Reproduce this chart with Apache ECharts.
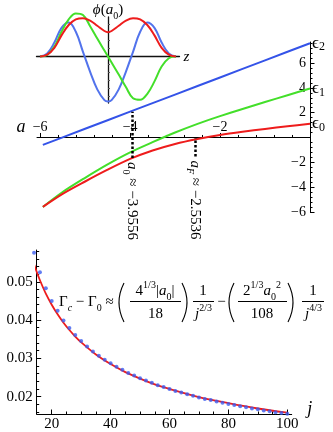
<!DOCTYPE html>
<html>
<head>
<meta charset="utf-8">
<title>levels and gap</title>
<script src="https://cdn.jsdelivr.net/npm/echarts@6.0.0/dist/echarts.min.js"></script>
<style>
  html, body { margin: 0; padding: 0; background: #ffffff; }
  #chart { width: 333px; height: 432px; }
</style>
</head>
<body>
<div id="chart"></div>
<script>
// ---- top panel: levels eps_n against a ----
const aValues = [-5.94, -5.5, -5, -4.5, -4, -3.5, -3, -2.5, -2, -1.5, -1, -0.5, 0];
const eps0 = [-5.6, -4.55, -3.55, -2.6, -1.73, -1.05, -0.52, -0.12, 0.2, 0.46, 0.69, 0.9, 1.1];
const eps1 = [-5.6, -4.4, -3.25, -2.17, -1.2, -0.38, 0.4, 1.1, 1.72, 2.3, 2.86, 3.41, 3.95];
const eps2 = [-0.6, 0.01, 0.7, 1.39, 2.08, 2.77, 3.46, 4.15, 4.84, 5.53, 6.22, 6.91, 7.6];
const aTicks = [-6, -4, -2];
const aMinorTicks = [-5.6, -5.2, -4.8, -4.4, -3.6, -3.2, -2.8, -2.4, -1.6, -1.2, -0.8, -0.4];
const epsTicks = [-6, -4, -2, 2, 4, 6];
const epsMinorTicks = [-5.6, -5.2, -4.8, -4.4, -3.6, -3.2, -2.8, -2.4, -1.6, -1.2, -0.8, -0.4,
  0.4, 0.8, 1.2, 1.6, 2.4, 2.8, 3.2, 3.6, 4.4, 4.8, 5.2, 5.6, 6.4, 6.8, 7.2, 7.6];
const a0 = -3.9556;
const aF = -2.5536;
const a0Span = [-1.66, 2.08];
const aFSpan = [-1.53, 0];

// ---- inset: phi(a0) against z ----
const zInset = [-0.95, -0.85, -0.75, -0.65, -0.55, -0.45, -0.35, -0.25, -0.15, -0.05, 0,
  0.05, 0.15, 0.25, 0.35, 0.45, 0.55, 0.65, 0.75, 0.85, 0.95];
const phiRed = [0, 0.05, 0.22, 0.53, 0.79, 0.93, 0.96, 0.9, 0.77, 0.64, 0.61,
  0.64, 0.77, 0.9, 0.96, 0.93, 0.79, 0.53, 0.22, 0.05, 0];
const phiGreen = [0, 0.04, 0.25, 0.62, 0.93, 1.08, 1.04, 0.76, 0.45, 0.15, 0,
  -0.15, -0.45, -0.76, -1.04, -1.08, -0.93, -0.62, -0.25, -0.04, 0];
const phiBlue = [0, 0.08, 0.35, 0.72, 0.85, 0.62, 0.12, -0.38, -0.82, -1.09, -1.12,
  -1.09, -0.82, -0.38, 0.12, 0.62, 0.85, 0.72, 0.35, 0.08, 0];
const phiTicks = [-1, -0.8, -0.6, -0.4, -0.2, 0.2, 0.4, 0.6, 0.8];

// ---- bottom panel: gap against j ----
const jDots = [14, 16, 18, 20, 22, 24, 26, 28, 30, 32, 34, 36, 38, 40, 42, 44, 46, 48, 50, 52, 54, 56,
  58, 60, 62, 64, 66, 68, 70, 72, 74, 76, 78, 80, 82, 84, 86, 88, 90, 92, 94, 96, 98, 100];
const gapDots = [0.0576, 0.0525, 0.0483, 0.0450, 0.0424, 0.0399, 0.0379, 0.0361, 0.0345, 0.0331, 0.0318,
  0.0307, 0.0296, 0.0287, 0.0278, 0.0270, 0.0262, 0.0255, 0.0248, 0.0242, 0.0236, 0.0230,
  0.0225, 0.0220, 0.0215, 0.0211, 0.0206, 0.0202, 0.0198, 0.0194, 0.0191, 0.0187, 0.0184,
  0.0181, 0.0178, 0.0175, 0.0172, 0.0169, 0.0167, 0.0164, 0.0162, 0.0159, 0.0157, 0.0155];
const jFit = [13, 14, 15, 16, 18, 20, 22, 24, 26, 28, 30, 35, 40, 45, 50, 55, 60, 70, 80, 90, 100];
const gapFit = [0.0571, 0.0546, 0.0524, 0.0504, 0.0469, 0.0440, 0.0415, 0.0393, 0.0374, 0.0357, 0.0342,
  0.0310, 0.0285, 0.0264, 0.0247, 0.0232, 0.0220, 0.0199, 0.0183, 0.0169, 0.0158];
const jTicks = [20, 40, 60, 80, 100];
const jMinorTicks = [25, 30, 35, 45, 50, 55, 65, 70, 75, 85, 90, 95];
const gapTicks = [0.02, 0.03, 0.04, 0.05];
const gapMinorTicks = [0.016, 0.018, 0.022, 0.024, 0.026, 0.028, 0.032, 0.034, 0.036, 0.038,
  0.042, 0.044, 0.046, 0.048, 0.052, 0.054, 0.056, 0.058];

const SERIF = '"Liberation Serif", "DejaVu Serif", serif';
const RED = '#ee1c1c';
const GREEN = '#43df2a';
const BLUE = '#3453e8';
const BLUE_LIGHT = '#5273ec';
const BLUE_DOT = '#3b5cf0';

const pairs = (xs, ys) => xs.map((x, i) => [x, ys[i]]);
const minus = (v) => (v < 0 ? '\u2212' + (-v) : '' + v);

// top panel ranges; the a axis sits on eps = 0
const topA = [-6.07, 0];
const topEps = [-6.05, 7.7];
const topHeight = 170.5;
const aAxisOffset = -(0 - topEps[0]) / (topEps[1] - topEps[0]) * topHeight;

const chart = echarts.init(document.getElementById('chart'));

const rich = {
    m: { fontFamily: SERIF, fontSize: 15, lineHeight: 22, verticalAlign: 'middle' },
    i: { fontFamily: SERIF, fontSize: 15, fontStyle: 'italic', lineHeight: 22, verticalAlign: 'middle' },
    big: { fontFamily: SERIF, fontSize: 18, fontStyle: 'italic', lineHeight: 22, verticalAlign: 'middle' },
    sup: { fontFamily: SERIF, fontSize: 10, lineHeight: 14, verticalAlign: 'top' },
    sub: { fontFamily: SERIF, fontSize: 10, lineHeight: 14, verticalAlign: 'bottom' },
    subi: { fontFamily: SERIF, fontSize: 10, fontStyle: 'italic', lineHeight: 14, verticalAlign: 'bottom' },
};

const epsLabel = (n) => ({
    show: true,
    distance: 2,
    formatter: () => '{e|\u03f5}{s|' + n + '}',
    rich: {
        e: { fontFamily: SERIF, fontSize: 17, lineHeight: 20, verticalAlign: 'middle', color: '#000' },
        s: { fontFamily: SERIF, fontSize: 12, lineHeight: 12, verticalAlign: 'bottom', color: '#000' },
    },
});

const blackLine = { color: '#000', width: 1 };
const tickFont = { fontFamily: SERIF, fontSize: 14, color: '#000' };
const bottomFont = { fontFamily: SERIF, fontSize: 15, color: '#000' };

const option = {
    animation: false,
    backgroundColor: '#ffffff',
    grid: [
        { left: 37, top: 42, width: 273, height: topHeight },
        { left: 36.5, top: 17, width: 143, height: 86 },
        { left: 36.7, top: 250, width: 255, height: 164 },
    ],
    xAxis: [
        {
            gridIndex: 0, type: 'value', min: topA[0], max: topA[1], position: 'bottom', offset: aAxisOffset,
            axisLine: { onZero: false, lineStyle: blackLine },
            axisTick: { inside: true, length: 4.5, customValues: aTicks, lineStyle: blackLine },
            axisLabel: { inside: true, margin: 3, customValues: aTicks, formatter: minus, ...tickFont },
            splitLine: { show: false },
        },
        {
            gridIndex: 0, type: 'value', min: topA[0], max: topA[1], position: 'bottom', offset: aAxisOffset,
            axisLine: { show: false, onZero: false },
            axisTick: { inside: true, length: 2.5, customValues: aMinorTicks, lineStyle: blackLine },
            axisLabel: { show: false },
            splitLine: { show: false },
        },
        {
            gridIndex: 1, type: 'value', min: -1, max: 1,
            axisLine: { onZero: true, lineStyle: { color: '#111', width: 1.3 } },
            axisTick: { show: false },
            axisLabel: { show: false },
            splitLine: { show: false },
        },
        {
            gridIndex: 2, type: 'value', min: 14.9, max: 101.5, position: 'bottom',
            axisLine: { onZero: false, lineStyle: blackLine },
            axisTick: { inside: true, length: 4.5, customValues: jTicks, lineStyle: blackLine },
            axisLabel: { margin: 3, customValues: jTicks, ...bottomFont },
            splitLine: { show: false },
        },
        {
            gridIndex: 2, type: 'value', min: 14.9, max: 101.5, position: 'bottom',
            axisLine: { show: false, onZero: false },
            axisTick: { inside: true, length: 2.5, customValues: jMinorTicks, lineStyle: blackLine },
            axisLabel: { show: false },
            splitLine: { show: false },
        },
    ],
    yAxis: [
        {
            gridIndex: 0, type: 'value', min: topEps[0], max: topEps[1], position: 'right',
            axisLine: { onZero: false, lineStyle: blackLine },
            axisTick: { inside: false, length: 4.5, customValues: epsTicks, lineStyle: blackLine },
            axisLabel: { inside: true, margin: 4, customValues: epsTicks, formatter: minus, ...tickFont },
            splitLine: { show: false },
        },
        {
            gridIndex: 0, type: 'value', min: topEps[0], max: topEps[1], position: 'right',
            axisLine: { show: false, onZero: false },
            axisTick: { inside: false, length: 2.5, customValues: epsMinorTicks, lineStyle: blackLine },
            axisLabel: { show: false },
            splitLine: { show: false },
        },
        {
            gridIndex: 1, type: 'value', min: -1.16, max: 0.99,
            axisLine: { onZero: true, lineStyle: { color: '#111', width: 1.3 } },
            axisTick: { show: true, inside: true, length: 2, customValues: phiTicks, lineStyle: { color: '#555', width: 1 } },
            axisLabel: { show: false },
            splitLine: { show: false },
        },
        {
            gridIndex: 2, type: 'value', min: 0.01546, max: 0.0583, position: 'left',
            axisLine: { onZero: false, lineStyle: blackLine },
            axisTick: { inside: true, length: 4.5, customValues: gapTicks, lineStyle: blackLine },
            axisLabel: { margin: 4, customValues: gapTicks, formatter: (v) => v.toFixed(2), ...bottomFont },
            splitLine: { show: false },
        },
        {
            gridIndex: 2, type: 'value', min: 0.01546, max: 0.0583, position: 'left',
            axisLine: { show: false, onZero: false },
            axisTick: { inside: true, length: 2.5, customValues: gapMinorTicks, lineStyle: blackLine },
            axisLabel: { show: false },
            splitLine: { show: false },
        },
    ],
    series: [
        {
            name: 'eps2', type: 'line', xAxisIndex: 0, yAxisIndex: 0, symbol: 'none',
            data: pairs(aValues, eps2), lineStyle: { color: BLUE, width: 2 }, endLabel: epsLabel(2),
        },
        {
            name: 'eps1', type: 'line', xAxisIndex: 0, yAxisIndex: 0, symbol: 'none', smooth: 0.3,
            data: pairs(aValues, eps1), lineStyle: { color: GREEN, width: 2 }, endLabel: epsLabel(1),
        },
        {
            name: 'eps0', type: 'line', xAxisIndex: 0, yAxisIndex: 0, symbol: 'none', smooth: 0.3,
            data: pairs(aValues, eps0), lineStyle: { color: RED, width: 2 }, endLabel: epsLabel(0),
            markLine: {
                silent: true, symbol: ['none', 'none'], label: { show: false },
                lineStyle: { color: '#000', type: [2.5, 2], width: 2.5 },
                data: [
                    [{ coord: [a0, a0Span[0]] }, { coord: [a0, a0Span[1]] }],
                    [{ coord: [aF, aFSpan[0]] }, { coord: [aF, aFSpan[1]] }],
                ],
            },
        },
        {
            name: 'phi-blue', type: 'line', xAxisIndex: 2, yAxisIndex: 2, symbol: 'none', smooth: 0.4, clip: false,
            data: pairs(zInset, phiBlue), lineStyle: { color: BLUE_LIGHT, width: 2 },
        },
        {
            name: 'phi-green', type: 'line', xAxisIndex: 2, yAxisIndex: 2, symbol: 'none', smooth: 0.4, clip: false,
            data: pairs(zInset, phiGreen), lineStyle: { color: GREEN, width: 2 },
        },
        {
            name: 'phi-red', type: 'line', xAxisIndex: 2, yAxisIndex: 2, symbol: 'none', smooth: 0.4, clip: false,
            data: pairs(zInset, phiRed), lineStyle: { color: RED, width: 2 },
        },
        {
            name: 'fit', type: 'line', xAxisIndex: 3, yAxisIndex: 3, symbol: 'none', smooth: 0.3, clip: false,
            data: pairs(jFit, gapFit), lineStyle: { color: RED, width: 1.8 },
        },
        {
            name: 'gap', type: 'scatter', xAxisIndex: 3, yAxisIndex: 3, symbol: 'circle', symbolSize: 4, clip: false,
            data: pairs(jDots, gapDots), itemStyle: { color: BLUE_DOT }, z: 3,
        },
    ],
};

chart.setOption(option);

// annotations, placed from the axes
const px = (xi, yi, p) => chart.convertToPixel({ xAxisIndex: xi, yAxisIndex: yi }, p);

function tx(x, y, text, align, extra) {
    return Object.assign({
        type: 'text', x: x, y: y, silent: true,
        style: { text: text, rich: rich, align: align || 'center', verticalAlign: 'middle',
                 fontFamily: SERIF, fontSize: 15, fill: '#000' },
    }, extra || {});
}
const bar = (x1, x2, y) => ({ type: 'line', silent: true, shape: { x1, y1: y, x2, y2: y },
    style: { stroke: '#000', lineWidth: 1 } });
const paren = (x, top, bottom, dir) => ({ type: 'bezierCurve', silent: true,
    shape: { x1: x, y1: top, x2: x, y2: bottom, cpx1: x - 10 * dir, cpy1: (top + bottom) / 2 },
    style: { stroke: '#000', lineWidth: 1.1, fill: 'none' } });

const pA0 = px(0, 0, [a0, a0Span[0]]);
const pAF = px(0, 0, [aF, aFSpan[0]]);
const pAStart = px(0, 0, [topA[0], 0]);
const pZEnd = px(2, 2, [1, 0]);
const pPhiTop = px(2, 2, [0, 0.99]);
const pJEnd = px(3, 3, [101.5, 0.01546]);

const elements = [
    tx(pAStart[0] - 16, pAStart[1] - 10, '{big|a}', 'center'),
    tx(pJEnd[0] + 18, pJEnd[1] - 5, '{big|j}', 'center'),
    tx(pZEnd[0] + 7, pZEnd[1], '{i|z}', 'center'),
    tx(pPhiTop[0], pPhiTop[1] - 7, '{i|\u03d5}{m|(}{i|a}{sub|0}{m|)}', 'center'),
    tx(pA0[0], pA0[1] + 4, '{i|a}{sub|0}{m| \u2248 \u22123.9556}', 'left', { rotation: -Math.PI / 2 }),
    tx(pAF[0], pAF[1] + 4, '{i|a}{subi|F}{m| \u2248 \u22122.5536}', 'left', { rotation: -Math.PI / 2 }),

    // gap formula
    tx(59, 302, '{m|\u0393}{subi|c}{m| \u2212 \u0393}{sub|0}{m| \u2248}', 'left'),
    paren(124, 283, 322, 1),
    tx(155, 291, '{m|4}{sup|1/3}{m||}{i|a}{sub|0}{m||}', 'center'),
    bar(130, 181, 301.5),
    tx(155.5, 314, '{m|18}', 'center'),
    paren(182, 283, 322, -1),
    tx(203, 291, '{m|1}', 'center'),
    bar(193, 214, 301.5),
    tx(203.5, 314, '{i|j}{sup|2/3}', 'center'),
    tx(221.5, 302, '{m|\u2212}', 'center'),
    paren(234, 283, 322, 1),
    tx(262, 291, '{m|2}{sup|1/3}{i|a}{sub|0}{sup|2}', 'center'),
    bar(238, 287, 301.5),
    tx(262, 314, '{m|108}', 'center'),
    paren(288, 283, 322, -1),
    tx(313, 291, '{m|1}', 'center'),
    bar(302, 324, 301.5),
    tx(313.5, 314, '{i|j}{sup|4/3}', 'center'),
];

chart.setOption({ graphic: { elements: elements } });
</script>
</body>
</html>
